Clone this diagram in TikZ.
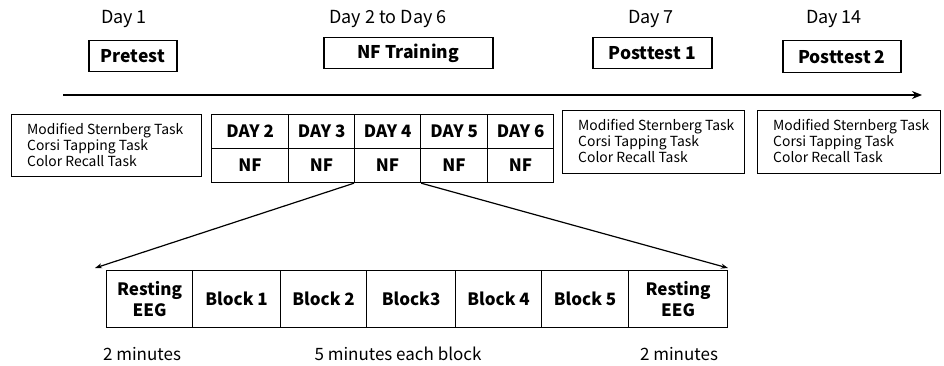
\documentclass[tikz,border=0pt]{standalone}
\usepackage{fontspec}
\setmainfont{Noto Sans CJK SC}
\usetikzlibrary{arrows.meta}
\begin{document}
\begin{tikzpicture}[x=1pt,y=-1pt,
  daylbl/.style={font=\fontsize{18}{20}\selectfont, inner sep=0},
  phase/.style={draw, line width=1.5pt, font=\fontsize{17.5}{19}\selectfont\bfseries, inner sep=0, anchor=north west},
  taskbox/.style={draw, line width=1.2pt, inner sep=0, anchor=north west},
  tasktxt/.style={font=\fontsize{13.9}{16}\selectfont, align=left, anchor=west, inner sep=0},
  cell/.style={draw, line width=1.2pt, font=\fontsize{17}{19}\selectfont\bfseries, inner sep=0, minimum height=34, anchor=north west},
  blk/.style={draw, line width=1.2pt, font=\fontsize{17}{21}\selectfont\bfseries, align=center, inner sep=0, minimum height=57, anchor=north west},
  minlbl/.style={font=\fontsize{17}{19}\selectfont, inner sep=0},
  conn/.style={line width=1.2pt, -{Stealth[length=7pt,width=5pt]}}
]
\useasboundingbox (0,0) rectangle (944,366);
% day labels
\node[daylbl] (d1) at (124,19) {Day 1};
\node[daylbl] (d26) at (388,19) {Day 2 to Day 6};
\node[daylbl] (d7) at (651,19) {Day 7};
\node[daylbl] (d14) at (834,19) {Day 14};
% phase boxes
\node[phase, minimum width=88, minimum height=31] (pre) at (88,40) {Pretest};
\node[phase, minimum width=169, minimum height=31] (nft) at (323,37) {NF Training};
\node[phase, minimum width=119, minimum height=31] (p1) at (592,37) {Posttest 1};
\node[phase, minimum width=118, minimum height=32] (p2) at (782,40) {Posttest 2};
% timeline
\coordinate (tl0) at (63,95);
\coordinate (tl1) at (922,95);
\draw[line width=2.5pt, -{Stealth[length=10pt,width=8pt]}] (tl0) -- (tl1);
% task boxes
\node[taskbox, minimum width=190, minimum height=62] (t0) at (11,114) {};
\node[tasktxt] at (27,145) {Modified Sternberg Task\\Corsi Tapping Task\\Color Recall Task};
\node[taskbox, minimum width=182, minimum height=63] (t1) at (562,110) {};
\node[tasktxt] at (578,141) {Modified Sternberg Task\\Corsi Tapping Task\\Color Recall Task};
\node[taskbox, minimum width=183, minimum height=63] (t2) at (757,110) {};
\node[tasktxt] at (773,141) {Modified Sternberg Task\\Corsi Tapping Task\\Color Recall Task};
% day table
\node[cell, minimum width=77] (c2) at (211,114) {DAY 2};
\node[cell, minimum width=66] (c3) at (288,114) {DAY 3};
\node[cell, minimum width=66] (c4) at (354,114) {DAY 4};
\node[cell, minimum width=67] (c5) at (420,114) {DAY 5};
\node[cell, minimum width=66] (c6) at (487,114) {DAY 6};
\node[cell, minimum width=77] (n2) at (211,148) {NF};
\node[cell, minimum width=66] (n3) at (288,148) {NF};
\node[cell, minimum width=66] (n4) at (354,148) {NF};
\node[cell, minimum width=67] (n5) at (420,148) {NF};
\node[cell, minimum width=66] (n6) at (487,148) {NF};
% session blocks
\node[blk, minimum width=86] (r1) at (106,270) {Resting\\EEG};
\node[blk, minimum width=88] (b1) at (192,270) {Block 1};
\node[blk, minimum width=86] (b2) at (280,270) {Block 2};
\node[blk, minimum width=89] (b3) at (366,270) {Block3};
\node[blk, minimum width=86] (b4) at (455,270) {Block 4};
\node[blk, minimum width=87] (b5) at (541,270) {Block 5};
\node[blk, minimum width=99] (r2) at (628,270) {Resting\\EEG};
% zoom connectors
\coordinate (zl) at (95,268);
\coordinate (zr) at (728,268);
\draw[conn] (n4.south west) -- (zl);
\draw[conn] (n4.south east) -- (zr);
% durations
\node[minlbl] (m1) at (142,354) {2 minutes};
\node[minlbl] (m2) at (398,354) {5 minutes each block};
\node[minlbl] (m3) at (679,354) {2 minutes};
\end{tikzpicture}
\end{document}
